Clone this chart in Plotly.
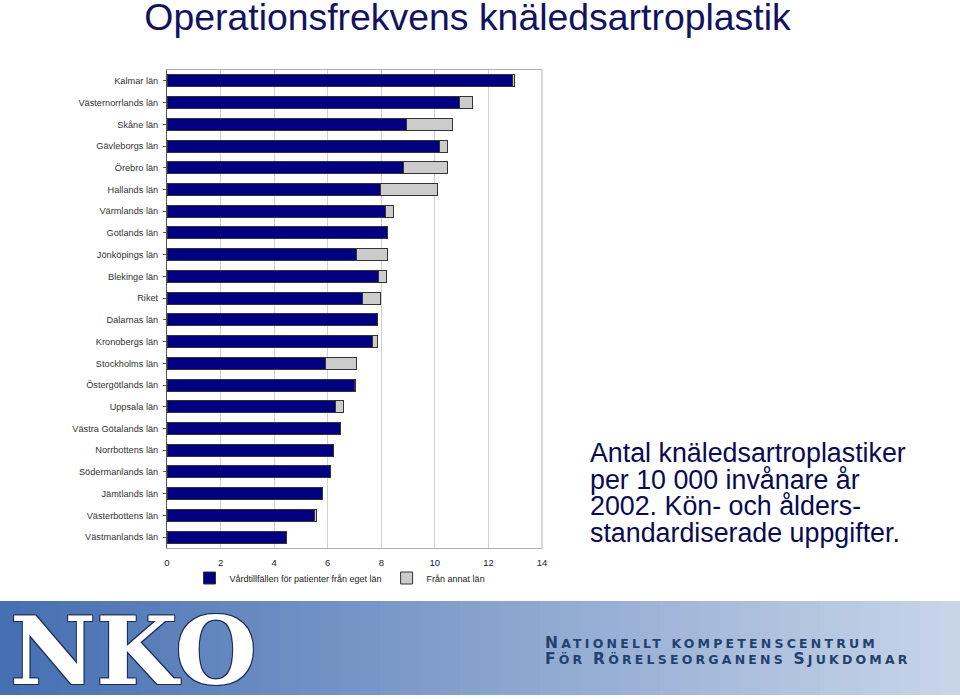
import plotly.graph_objects as go

lan = ["Kalmar län", "Västernorrlands län", "Skåne län", "Gävleborgs län", "Örebro län",
       "Hallands län", "Värmlands län", "Gotlands län", "Jönköpings län", "Blekinge län",
       "Riket", "Dalarnas län", "Kronobergs län", "Stockholms län", "Östergötlands län",
       "Uppsala län", "Västra Götalands län", "Norrbottens län", "Södermanlands län",
       "Jämtlands län", "Västerbottens län", "Västmanlands län"]
eget_lan = [12.9, 10.93, 8.95, 10.19, 8.83, 7.97, 8.16, 8.24, 7.07, 7.91,
            7.30, 7.87, 7.68, 5.90, 6.99, 6.28, 6.49, 6.23, 6.09, 5.82, 5.52, 4.46]
annat_lan = [0.08, 0.46, 1.70, 0.30, 1.63, 2.12, 0.30, 0.0, 1.16, 0.27,
             0.66, 0.0, 0.16, 1.16, 0.05, 0.30, 0.0, 0.0, 0.0, 0.0, 0.06, 0.0]
x_ticks = [0, 2, 4, 6, 8, 10, 12, 14]

FONT = "Liberation Sans, Arial, sans-serif"

W, H = 960, 699
L, R, T, B = 167, 542, 70, 548   # plot area in window pixels


def px(x):
    return (x - L) / (R - L)


def py(y):
    return (B - y) / (B - T)


fig = go.Figure()
fig.add_trace(go.Bar(y=lan, x=eget_lan, orientation="h",
                     name="Vårdtillfällen för patienter från eget län",
                     marker=dict(color="#000080", line=dict(color="#333333", width=1))))
fig.add_trace(go.Bar(y=lan, x=annat_lan, orientation="h",
                     name="Från annat län",
                     marker=dict(color="#cccccc", line=dict(color="#333333", width=1))))

fig.update_layout(
    barmode="stack", bargap=0.45,
    width=W, height=H,
    margin=dict(l=L, r=W - R, t=T, b=H - B),
    paper_bgcolor="white", plot_bgcolor="white",
    font=dict(family=FONT, size=9.2, color="#333333"),
    title=dict(text="Operationsfrekvens knäledsartroplastik", x=467.5 / W, xanchor="center",
               y=1 - 17 / H, yanchor="middle",
               font=dict(family=FONT, size=37.4, color="#12125e")),
    legend=dict(orientation="h", x=px(340), xanchor="center", y=py(578), yanchor="middle",
                font=dict(size=9, color="#222222"), traceorder="normal",
                itemwidth=30, bgcolor="rgba(0,0,0,0)"),
    xaxis=dict(range=[0, 14], tickvals=x_ticks, showgrid=True, gridcolor="#d0d0d0",
               zeroline=False, showline=True, linecolor="#b0b0b0", mirror=True,
               ticks="", ticklabelstandoff=6, tickfont=dict(size=9.5, color="#222222")),
    yaxis=dict(autorange="reversed", showline=True, linecolor="#555555", mirror=False,
               ticks="outside", ticklen=3, tickcolor="#555555", ticklabelstandoff=3),
)
fig.add_shape(type="line", xref="paper", yref="paper", x0=1, x1=1, y0=0, y1=1,
              line=dict(color="#b0b0b0", width=1))

# right-hand description text, one line per annotation for tight spacing
desc = ["Antal knäledsartroplastiker", "per 10 000 invånare år",
        "2002. Kön- och ålders-", "standardiserade uppgifter."]
for i, line in enumerate(desc):
    fig.add_annotation(text=line, xref="paper", yref="paper", showarrow=False,
                       x=px(588), xanchor="left", y=py(453 + i * 26.7), yanchor="middle",
                       font=dict(family=FONT, size=26.8, color="#0a0a50"))

# bottom banner: horizontal blue gradient made of strips
n = 48
c0, c1 = (70, 112, 178), (200, 213, 233)
for k in range(n):
    t = k / (n - 1)
    col = "rgb(%d,%d,%d)" % tuple(int(a + (b - a) * t) for a, b in zip(c0, c1))
    fig.add_shape(type="rect", xref="paper", yref="paper", layer="below",
                  x0=px(960 * k / n), x1=px(960 * (k + 1) / n + 1),
                  y0=py(695), y1=py(601), line=dict(width=0), fillcolor=col)

outline = "1px 1px 0 #1c2c55, -1px -1px 0 #1c2c55, 1px -1px 0 #1c2c55, -1px 1px 0 #1c2c55"
fig.add_annotation(text="<b>NKO</b>", xref="paper", yref="paper", showarrow=False,
                   x=px(8), xanchor="left", y=py(651), yanchor="middle",
                   font=dict(family="DejaVu Serif, serif", size=94, color="white",
                             shadow=outline))
big = '<span style="font-size:15.5px">%s</span>'
lines = [big % "N" + "ATIONELLT KOMPETENSCENTRUM",
         big % "F" + "ÖR " + big % "R" + "ÖRELSEORGANENS " + big % "S" + "JUKDOMAR"]
for i, line in enumerate(lines):
    fig.add_annotation(text='<b><span style="letter-spacing:3.2px">' + line + "</span></b>",
                       xref="paper", yref="paper", showarrow=False,
                       x=px(543), xanchor="left", y=py(643 + i * 16), yanchor="middle",
                       font=dict(family="DejaVu Sans, sans-serif", size=12.5, color="#23416f"))

fig.write_html("out.html", config={"displayModeBar": False},
               post_script="document.body.style.margin='0';"
                           "document.body.style.overflow='hidden';")
